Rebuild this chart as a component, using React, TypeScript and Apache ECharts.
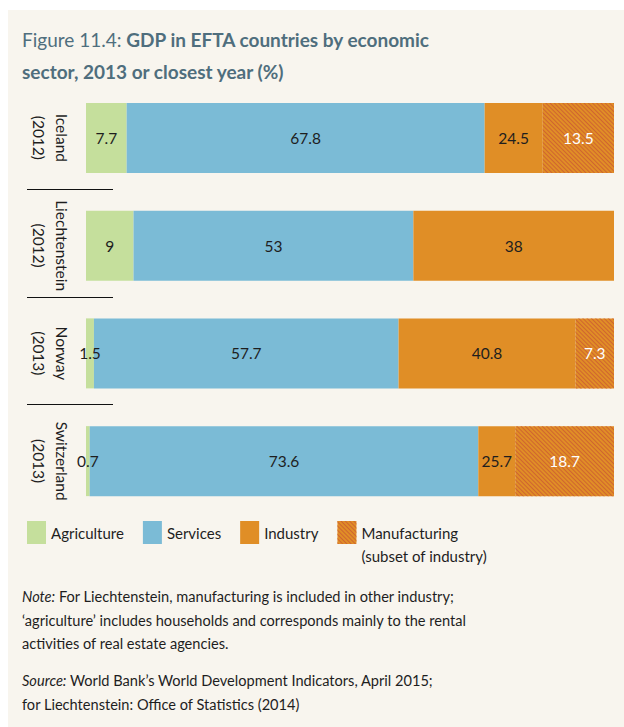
import React, { useEffect, useRef } from "react";
import * as echarts from "echarts";

const countries = ["Iceland", "Liechtenstein", "Norway", "Switzerland"];
const years = ["2012", "2012", "2013", "2013"];
const agriculture = [7.7, 9, 1.5, 0.7];
const services = [67.8, 53, 57.7, 73.6];
const industry = [24.5, 38, 40.8, 25.7];
const manufacturing: (number | null)[] = [13.5, null, 7.3, 18.7];
const seriesNames = ["Agriculture", "Services", "Industry", "Manufacturing"];
const manufacturingNote = "(subset of industry)";

const titlePrefix = "Figure 11.4: ";
const titleLine1 = "GDP in EFTA countries by economic";
const titleLine2 = "sector, 2013 or closest year (%)";
const noteLines = [
  "For Liechtenstein, manufacturing is included in other industry;",
  "\u2018agriculture\u2019 includes households and corresponds mainly to the rental",
  "activities of real estate agencies.",
];
const sourceLines = [
  "World Bank\u2019s World Development Indicators, April 2015;",
  "for Liechtenstein: Office of Statistics (2014)",
];

const FONT = "Lato, 'Open Sans', sans-serif";
const BG = "#f8f5ee";
const TEXT = "#1e1e1e";

export default function App() {
  const ref = useRef<HTMLDivElement>(null);
  useEffect(() => {
    if (!ref.current) return;
    const chart = echarts.init(ref.current, undefined, { renderer: "svg" });
    const labelBase = {
      show: true,
      position: "inside" as const,
      fontSize: 15.5,
      fontFamily: FONT,
      color: TEXT,
    };
    const option: any = {
      animation: false,
      backgroundColor: BG,
      textStyle: { fontFamily: FONT },
      title: {
        left: 14,
        top: 13,
        padding: 0,
        text:
          "{n|" + titlePrefix + "}{b|" + titleLine1 + "}\n{b|" + titleLine2 + "}",
        textStyle: {
          rich: {
            n: { fontSize: 19, fontWeight: "normal", color: "#4f6e7d", fontFamily: FONT, lineHeight: 32 },
            b: { fontSize: 19, fontWeight: "bold", color: "#4f6e7d", fontFamily: FONT, lineHeight: 32 },
          },
        },
      },
      grid: { left: 78, right: 10, top: 74, height: 431 },
      xAxis: { type: "value", min: 0, max: 100, show: false },
      yAxis: {
        type: "category",
        data: countries,
        inverse: true,
        axisLine: { show: false },
        axisTick: { show: false },
        axisLabel: {
          interval: 0,
          rotate: -90,
          fontSize: 15.5,
          fontFamily: FONT,
          color: TEXT,
          lineHeight: 23,
          margin: 13,
          formatter: (v: string, i: number) => v + "\n(" + years[i] + ")",
        },
      },
      legend: {
        left: 14,
        top: 483,
        icon: "rect",
        itemWidth: 19,
        itemHeight: 23,
        itemGap: 19,
        selectedMode: false,
        textStyle: { fontSize: 15, color: TEXT, fontFamily: FONT, lineHeight: 23 },
        formatter: (name: string) =>
          name === "Manufacturing" ? "\n" + name + "\n" + manufacturingNote : name,
        data: seriesNames,
      },
      series: [
        {
          name: seriesNames[0],
          type: "bar",
          stack: "gdp",
          barWidth: 70,
          data: agriculture,
          itemStyle: { color: "#c5df9c" },
          label: { ...labelBase },
        },
        {
          name: seriesNames[1],
          type: "bar",
          stack: "gdp",
          barWidth: 70,
          data: services,
          itemStyle: { color: "#7bbbd6" },
          label: { ...labelBase },
        },
        {
          name: seriesNames[2],
          type: "bar",
          stack: "gdp",
          barWidth: 70,
          data: industry.map((v, i) => +(v - (manufacturing[i] ?? 0)).toFixed(1)),
          itemStyle: { color: "#e08e26" },
          label: { ...labelBase, formatter: (p: any) => String(industry[p.dataIndex]) },
        },
        {
          name: seriesNames[3],
          type: "bar",
          stack: "gdp",
          barWidth: 70,
          data: manufacturing,
          itemStyle: {
            color: "#e08e26",
            decal: {
              symbol: "rect",
              symbolSize: 1,
              dashArrayX: [1, 0],
              dashArrayY: [1, 1.2],
              rotation: Math.PI / 4,
              color: "#d06430",
            },
          },
          label: { ...labelBase, color: "#ffffff" },
        },
      ],
      graphic: [
        {
          type: "text",
          left: 14,
          top: 575,
          style: {
            text: "{i|Note:} " + noteLines.join("\n"),
            font: "14.6px " + FONT,
            fill: TEXT,
            lineHeight: 23.5,
            rich: { i: { fontStyle: "italic", fontSize: 14.6, fontFamily: FONT, fill: TEXT, lineHeight: 23.5 } },
          },
        },
        {
          type: "text",
          left: 14,
          top: 659,
          style: {
            text: "{i|Source:} " + sourceLines.join("\n"),
            font: "14.6px " + FONT,
            fill: TEXT,
            lineHeight: 23.5,
            rich: { i: { fontStyle: "italic", fontSize: 14.6, fontFamily: FONT, fill: TEXT, lineHeight: 23.5 } },
          },
        },
      ],
    };
    chart.setOption(option);
    // separator lines between categories, placed through the category axis scale
    const centers = countries.map((c) => chart.convertToPixel({ yAxisIndex: 0 }, c) as number);
    const seps = [];
    for (let i = 0; i < centers.length - 1; i++) {
      const y = Math.round((centers[i] + centers[i + 1]) / 2) - 2.5;
      seps.push({
        type: "line",
        shape: { x1: 19, y1: y, x2: 105, y2: y },
        style: { stroke: "#111", lineWidth: 1.2 },
        silent: true,
      });
    }
    chart.setOption({ graphic: [...option.graphic, ...seps] });
    return () => chart.dispose();
  }, []);
  return (
    <div
      ref={ref}
      style={{ position: "fixed", left: 8, top: 10, width: 616, height: 717 }}
    />
  );
}
